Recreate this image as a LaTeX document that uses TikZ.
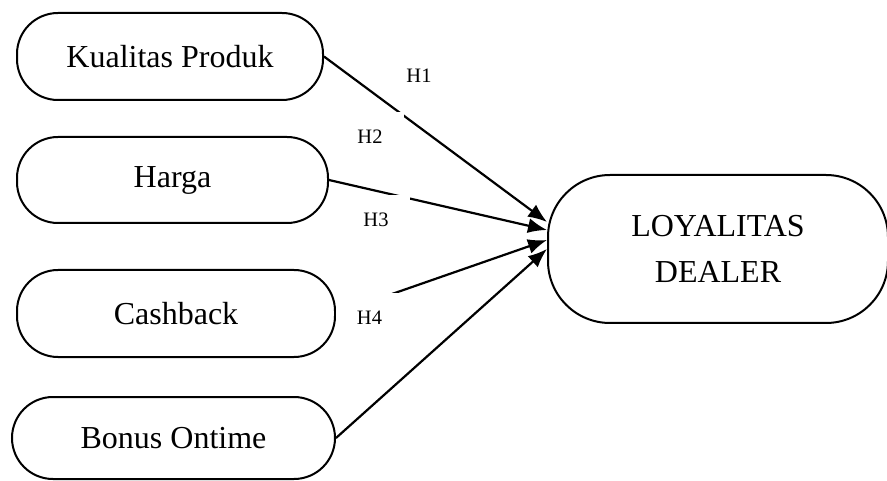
\documentclass[tikz,border=0pt]{standalone}
\usepackage{fontspec}
\setmainfont{Liberation Serif}
\usetikzlibrary{arrows.meta}

\begin{document}
\begin{tikzpicture}[
        x=1pt, y=-1pt,
        >={Latex[length=19pt,width=15pt]},
        every node/.style={align=center},
        varbox/.style={draw, line width=2pt, rounded corners=41pt, inner sep=0pt,
            font=\fontsize{32}{46.5}\selectfont},
        hyplabel/.style={fill=white, inner xsep=21pt, inner ysep=18pt,
            font=\fontsize{20.5}{24}\selectfont},
        pathline/.style={->, line width=2.2pt}
    ]

        % --- Rahmen ---
        \useasboundingbox (0,0) rectangle (887,481);

        % --- Variabel X (links) ---
        \node[varbox, minimum width=306pt, minimum height=87pt] (kualitas) at (170,56.5) {Kualitas Produk};
        \node[varbox, minimum width=311pt, minimum height=86pt] (harga) at (172.5,180) {Harga};
        \node[varbox, minimum width=318pt, minimum height=87pt] (cashback) at (176,313.5) {Cashback};
        \node[varbox, minimum width=323pt, minimum height=82pt] (bonus) at (173.5,438) {Bonus Ontime};

        % --- Variabel Y (rechts) ---
        \node[varbox, rounded corners=62pt, minimum width=340pt, minimum height=148pt] (loyal) at (718,249) {LOYALITAS\\DEALER};

        % --- Pfeile ---
        \draw[pathline] (kualitas.east) -- ([yshift=27pt]loyal.west);
        \draw[pathline] (harga.east) -- ([yshift=19pt]loyal.west);
        \draw[pathline] (cashback.east) -- ([yshift=9pt]loyal.west);
        \draw[pathline] (bonus.east) -- (loyal.west);

        % --- Hipotesis ---
        \node[hyplabel] (h1) at (419,75.5) {H1};
        \node[hyplabel] (h2) at (370,137) {H2};
        \node[hyplabel] (h3) at (376,219.5) {H3};
        \node[hyplabel] (h4) at (369.5,318) {H4};

    \end{tikzpicture}
\end{document}
